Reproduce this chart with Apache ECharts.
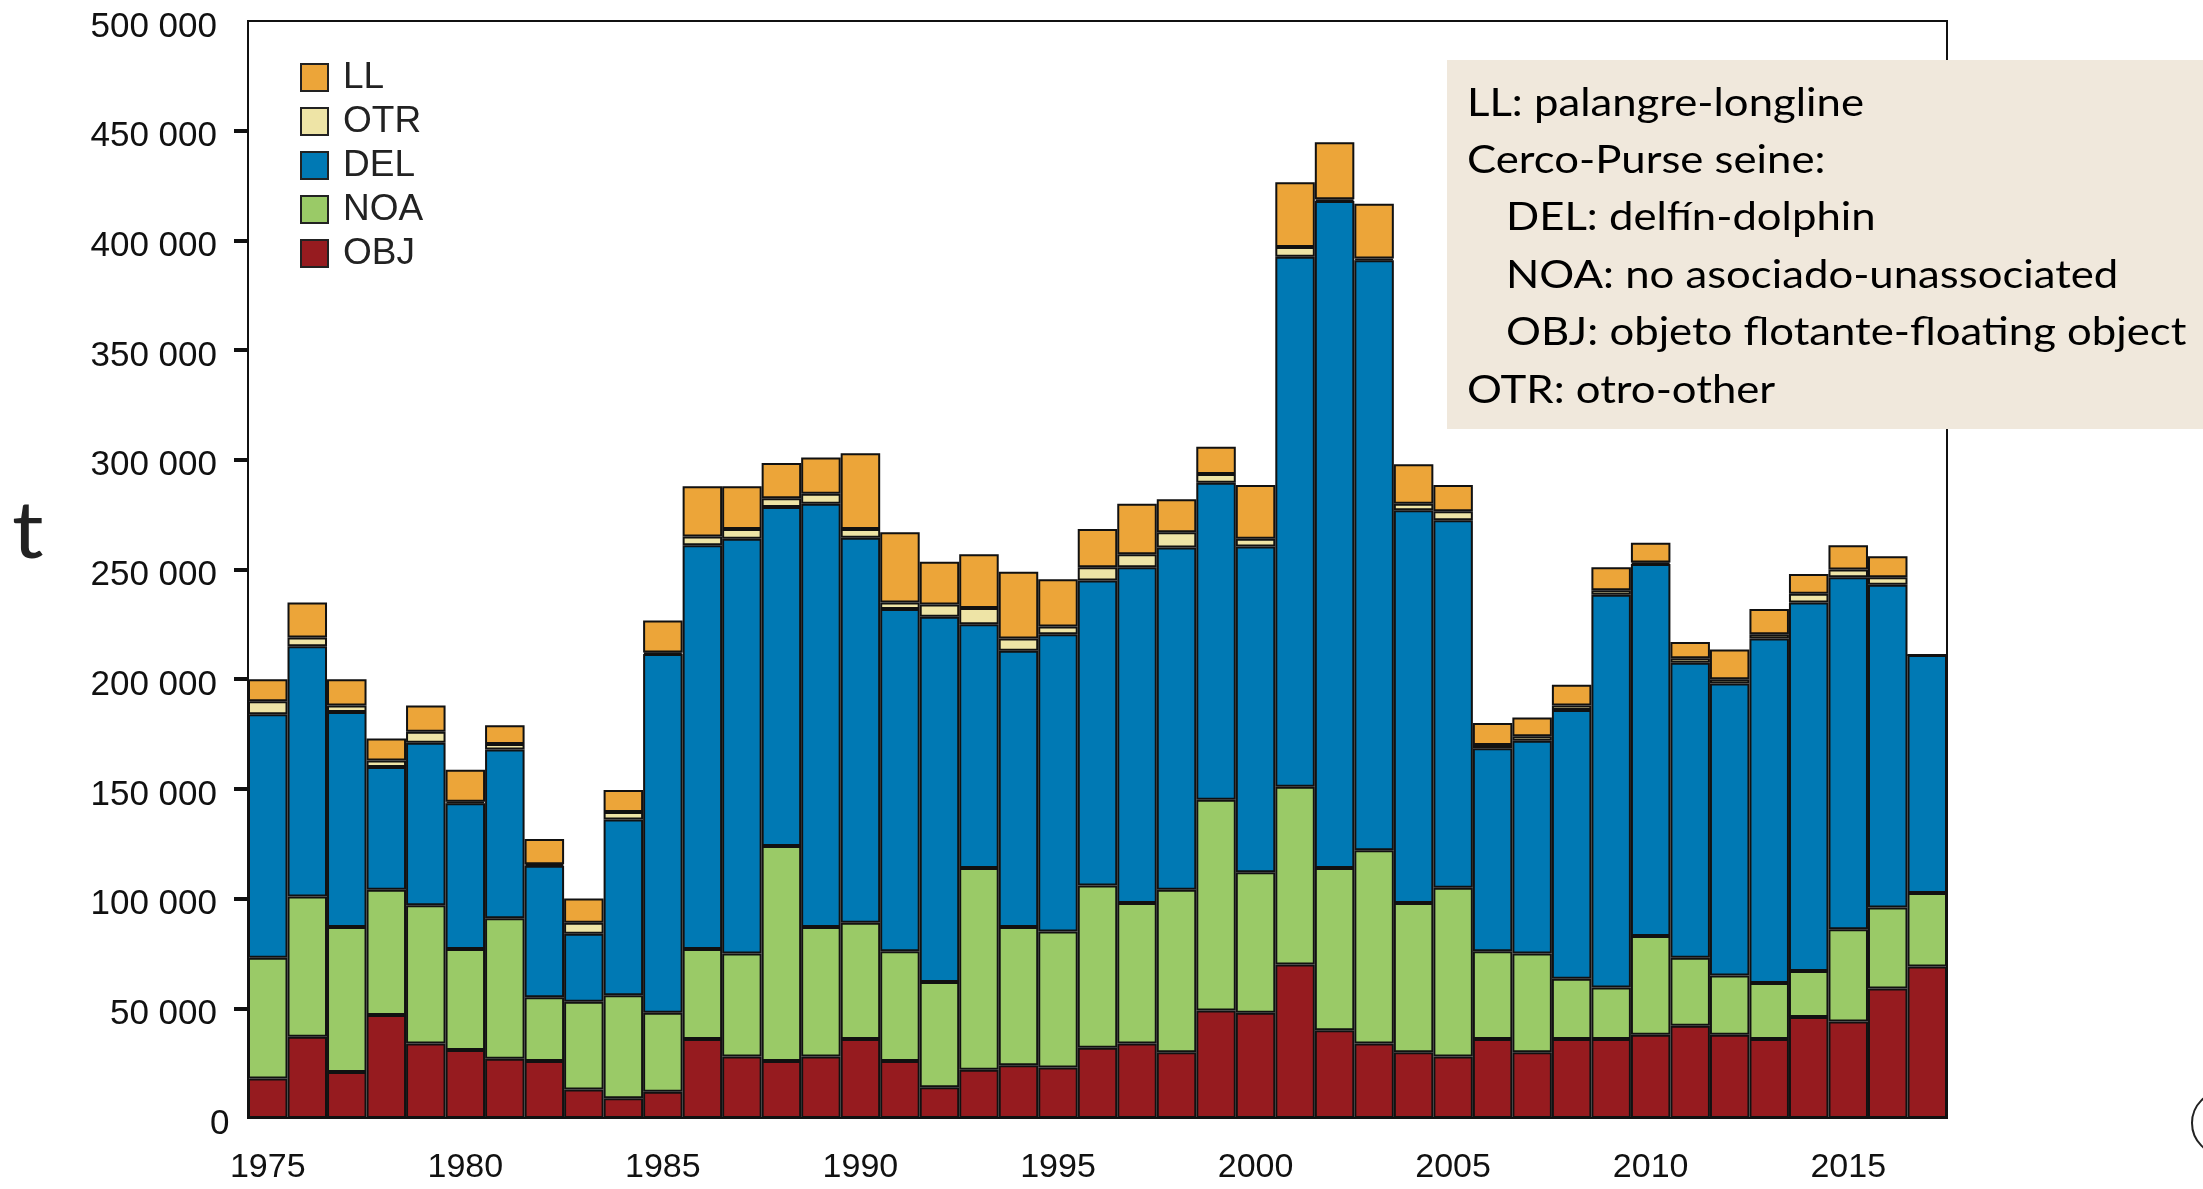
<!DOCTYPE html>
<html>
<head>
<meta charset="utf-8">
<title>Captura por arte</title>
<script src="https://cdn.jsdelivr.net/npm/echarts@6/dist/echarts.min.js"></script>
<style>
    html, body { margin: 0; padding: 0; background: #fff; }
    #main { width: 2203px; height: 1189px; }
</style>
</head>
<body>
<div id="main"></div>
<script>
//年份
var years = ['1975', '1976', '1977', '1978', '1979', '1980', '1981', '1982', '1983', '1984',
    '1985', '1986', '1987', '1988', '1989', '1990', '1991', '1992', '1993', '1994',
    '1995', '1996', '1997', '1998', '1999', '2000', '2001', '2002', '2003', '2004',
    '2005', '2006', '2007', '2008', '2009', '2010', '2011', '2012', '2013', '2014',
    '2015', '2016', '2017'];

//各类捕捞量 (t), 从下到上堆叠
var obj_data = [18000, 37000, 21000, 47000, 34000, 31000, 27000, 26000, 13000, 9000,
    12000, 36000, 28000, 26000, 28000, 36000, 26000, 14000, 22000, 24000,
    23000, 32000, 34000, 30000, 49000, 48000, 70000, 40000, 34000, 30000,
    28000, 36000, 30000, 36000, 36000, 38000, 42000, 38000, 36000, 46000,
    44000, 59000, 69000];
var noa_data = [55000, 64000, 66000, 57000, 63000, 46000, 64000, 29000, 40000, 47000,
    36000, 41000, 47000, 98000, 59000, 53000, 50000, 48000, 92000, 63000,
    62000, 74000, 64000, 74000, 96000, 64000, 81000, 74000, 88000, 68000,
    77000, 40000, 45000, 27500, 23500, 45000, 31000, 27000, 25500, 21000,
    42000, 37000, 33500];
var del_data = [111000, 114000, 98000, 56000, 74000, 66500, 77000, 60000, 31000, 80000,
    163500, 184000, 189000, 154500, 193000, 175500, 156000, 166500, 111000, 126000,
    135500, 139000, 153000, 156000, 144500, 148500, 241500, 304000, 269000, 179000,
    167500, 92500, 97000, 122500, 179000, 169500, 134500, 133000, 157000, 168000,
    160500, 147000, 108500];
var otr_data = [6000, 4000, 3000, 3000, 5000, 700, 2500, 700, 5000, 3500,
    700, 4000, 4500, 4000, 4500, 4000, 3000, 5500, 7500, 5500,
    3500, 6000, 6000, 7000, 4000, 3500, 4500, 700, 700, 3000,
    4000, 1500, 2000, 2000, 2000, 700, 2000, 2000, 2000, 4000,
    3500, 3500, 0];
var ll_data = [10000, 16000, 12000, 10000, 12000, 14500, 8500, 11500, 11000, 10000,
    14500, 23000, 19500, 16000, 16500, 34500, 32000, 19500, 24500, 30500,
    21500, 17500, 23000, 15000, 12500, 24500, 29500, 26000, 25000, 18000,
    12000, 10000, 8500, 9500, 10500, 9000, 7500, 13500, 11500, 9000,
    11000, 9500, 0];

//图例与说明文字
var legend_names = ['LL', 'OTR', 'DEL', 'NOA', 'OBJ'];
var note_lines = [
    'LL: palangre-longline',
    'Cerco-Purse seine:',
    'DEL: delfín-dolphin',
    'NOA: no asociado-unassociated',
    'OBJ: objeto flotante-floating object',
    'OTR: otro-other'
];
var note_indent = [false, false, true, true, true, false];

var colors = {
    LL: '#eca539',
    OTR: '#eee4a6',
    DEL: '#0079b4',
    NOA: '#9aca67',
    OBJ: '#961b1f'
};

var axis_font = "'Liberation Sans', Arial, sans-serif";
var note_font = "Lato, 'Open Sans', sans-serif";

//只在逢5年处显示刻度
function five_year(index) {
    return parseInt(years[index], 10) % 5 === 0;
}

function make_series(name, data) {
    return {
        name: name,
        type: 'bar',
        stack: 'total',
        barCategoryGap: '0%',
        data: data,
        itemStyle: {
            color: colors[name],
            borderColor: '#111',
            borderWidth: 2
        },
        emphasis: { disabled: true }
    };
}

//说明文字
var note_elements = [{
    type: 'rect',
    shape: { x: 1447, y: 60, width: 756, height: 369 },
    style: { fill: '#f0e8dc' },
    z: 10
}];
for (var i = 0; i < note_lines.length; i++) {
    note_elements.push({
        type: 'text',
        x: note_indent[i] ? 1506 : 1467,
        y: 103 + i * 57.4,
        scaleX: 1.12,
        style: {
            text: note_lines[i],
            font: '39px ' + note_font,
            fill: '#000',
            verticalAlign: 'middle'
        },
        z: 11
    });
}
note_elements.push({
    type: 'text',
    x: 12,
    y: 532,
    scaleX: 1.1,
    style: {
        text: 't',
        font: '80px ' + note_font,
        fill: '#222',
        verticalAlign: 'middle'
    }
});
note_elements.push({
    type: 'circle',
    shape: { cx: 2224, cy: 1123, r: 32 },
    style: { fill: 'none', stroke: '#222', lineWidth: 2 }
});

var chart = echarts.init(document.getElementById('main'));
var option = {
    animation: false,
    backgroundColor: '#fff',
    grid: {
        left: 248,
        top: 21,
        width: 1699,
        height: 1097,
        show: true,
        borderColor: '#111',
        borderWidth: 2,
        containLabel: false
    },
    legend: {
        data: legend_names,
        orient: 'vertical',
        left: 300,
        top: 59,
        padding: 0,
        itemWidth: 27,
        itemHeight: 27,
        itemGap: 7,
        icon: 'rect',
        itemStyle: { borderColor: '#222', borderWidth: 2 },
        textStyle: {
            fontFamily: axis_font,
            fontSize: 37,
            lineHeight: 37,
            color: '#222',
            padding: [0, 0, 0, 10]
        },
        selectedMode: false
    },
    xAxis: {
        type: 'category',
        data: years,
        axisLine: { lineStyle: { color: '#111', width: 2 } },
        axisTick: {
            alignWithLabel: true,
            interval: five_year,
            length: 16,
            lineStyle: { color: '#111', width: 4 }
        },
        axisLabel: {
            interval: five_year,
            margin: 33,
            fontFamily: axis_font,
            fontSize: 34,
            color: '#111'
        }
    },
    yAxis: {
        type: 'value',
        min: 0,
        max: 500000,
        interval: 50000,
        splitLine: { show: false },
        axisLine: { show: true, lineStyle: { color: '#111', width: 2 } },
        axisTick: {
            show: true,
            length: 14,
            customValues: [50000, 100000, 150000, 200000, 250000, 300000, 350000, 400000, 450000],
            lineStyle: { color: '#111', width: 4 }
        },
        axisLabel: {
            margin: 31,
            padding: [12, 0, 0, 0],
            fontFamily: axis_font,
            fontSize: 35,
            color: '#111',
            formatter: function (v) {
                if (v === 0) {
                    //原图中 0 偏右
                    return '{z|0}';
                }
                return (v / 1000) + ' 000';
            },
            rich: {
                z: {
                    width: 7,
                    align: 'left',
                    fontFamily: axis_font,
                    fontSize: 35,
                    color: '#111'
                }
            }
        }
    },
    series: [
        make_series('OBJ', obj_data),
        make_series('NOA', noa_data),
        make_series('DEL', del_data),
        make_series('OTR', otr_data),
        make_series('LL', ll_data)
    ],
    graphic: { elements: note_elements }
};
chart.setOption(option, true);
</script>
</body>
</html>
